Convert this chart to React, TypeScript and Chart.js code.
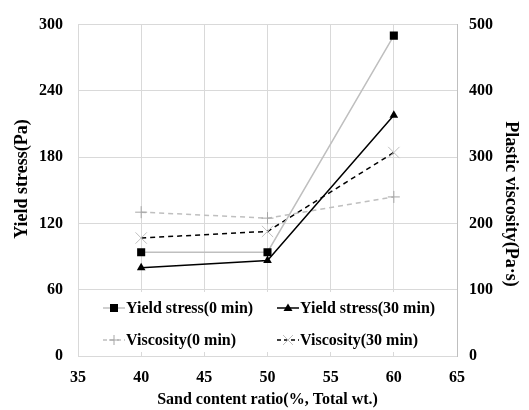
import React, { useEffect, useRef } from "react";
import { Chart, registerables } from "chart.js";

Chart.register(...registerables);

const sandRatio = [40, 50, 60];
const yieldStress0 = [94, 94, 290];
const yieldStress30 = [80, 86.5, 218];
const viscosity0 = [217, 208, 240];
const viscosity30 = [178, 188, 307];

const xTitle = "Sand content ratio(%, Total wt.)";
const yTitle = "Yield stress(Pa)";
const y1Title = "Plastic viscosity(Pa·s)";
const legendLabels = [
  "Yield stress(0 min)",
  "Yield stress(30 min)",
  "Viscosity(0 min)",
  "Viscosity(30 min)",
];

const FONT_FAMILY = '"Liberation Serif", "Times New Roman", serif';
const GRID = "#d9d9d9";

const toPoints = (vals: number[]) => sandRatio.map((x, i) => ({ x, y: vals[i] }));

function drawMarker(ctx: CanvasRenderingContext2D, style: string, x: number, y: number, color: string) {
  ctx.save();
  ctx.fillStyle = color;
  ctx.strokeStyle = color;
  ctx.setLineDash([]);
  ctx.lineWidth = 1;
  if (style === "rect") {
    ctx.fillRect(x - 4, y - 4, 8, 8);
  } else if (style === "triangle") {
    ctx.beginPath();
    ctx.moveTo(x, y - 4.5);
    ctx.lineTo(x + 4.5, y + 3);
    ctx.lineTo(x - 4.5, y + 3);
    ctx.closePath();
    ctx.fill();
  } else if (style === "cross") {
    ctx.beginPath();
    ctx.moveTo(x - 5, y);
    ctx.lineTo(x + 5, y);
    ctx.moveTo(x, y - 5);
    ctx.lineTo(x, y + 5);
    ctx.stroke();
  } else if (style === "crossRot") {
    ctx.beginPath();
    ctx.moveTo(x - 5, y - 5);
    ctx.lineTo(x + 5, y + 5);
    ctx.moveTo(x + 5, y - 5);
    ctx.lineTo(x - 5, y + 5);
    ctx.stroke();
  }
  ctx.restore();
}

const legendItems = [
  { text: legendLabels[0], lineColor: "#bfbfbf", dash: [] as number[], marker: "rect", markerColor: "#000", x: 103, y: 308 },
  { text: legendLabels[1], lineColor: "#000", dash: [] as number[], marker: "triangle", markerColor: "#000", x: 277, y: 308 },
  { text: legendLabels[2], lineColor: "#bfbfbf", dash: [4, 3], marker: "cross", markerColor: "#a6a6a6", x: 103, y: 340 },
  { text: legendLabels[3], lineColor: "#000", dash: [4, 3], marker: "crossRot", markerColor: "#bfbfbf", x: 277, y: 340 },
];

const legendPlugin = {
  id: "insideLegend",
  afterDatasetsDraw(chart: any) {
    const ctx: CanvasRenderingContext2D = chart.ctx;
    ctx.save();
    ctx.fillStyle = "#fff";
    ctx.fillRect(96, 292, 350, 60);
    ctx.font = `bold 16px ${FONT_FAMILY}`;
    ctx.textBaseline = "middle";
    ctx.textAlign = "left";
    for (const it of legendItems) {
      ctx.strokeStyle = it.lineColor;
      ctx.lineWidth = 1.5;
      ctx.setLineDash(it.dash);
      ctx.beginPath();
      ctx.moveTo(it.x, it.y);
      ctx.lineTo(it.x + 22, it.y);
      ctx.stroke();
      drawMarker(ctx, it.marker, it.x + 11, it.y, it.markerColor);
      ctx.fillStyle = "#000";
      ctx.fillText(it.text, it.x + 23, it.y + 1);
    }
    ctx.restore();
  },
};

const sideTitlesPlugin = {
  id: "sideTitles",
  afterDraw(chart: any) {
    const ctx: CanvasRenderingContext2D = chart.ctx;
    ctx.save();
    ctx.font = `bold 18px ${FONT_FAMILY}`;
    ctx.fillStyle = "#000";
    ctx.textAlign = "center";
    ctx.textBaseline = "middle";
    ctx.save();
    ctx.translate(22, 179);
    ctx.rotate(-Math.PI / 2);
    ctx.fillText(yTitle, 0, 0);
    ctx.restore();
    ctx.save();
    ctx.translate(511, 204);
    ctx.rotate(Math.PI / 2);
    ctx.fillText(y1Title, 0, 0);
    ctx.restore();
    ctx.restore();
  },
};

export default function App() {
  const ref = useRef<HTMLCanvasElement>(null);
  useEffect(() => {
    if (!ref.current) return;
    const tickFont = { family: FONT_FAMILY, size: 16, weight: "bold" as const };
    const chart = new Chart(ref.current, {
      type: "line",
      data: {
        datasets: [
          {
            label: legendLabels[0],
            data: toPoints(yieldStress0),
            yAxisID: "y",
            borderColor: "#bfbfbf",
            borderWidth: 1.5,
            pointStyle: "rect",
            pointRadius: 5.7,
            pointBackgroundColor: "#000",
            pointBorderColor: "#000",
            pointBorderWidth: 0,
          },
          {
            label: legendLabels[1],
            data: toPoints(yieldStress30),
            yAxisID: "y",
            borderColor: "#000",
            borderWidth: 1.5,
            pointStyle: "triangle",
            pointRadius: 5,
            pointBackgroundColor: "#000",
            pointBorderColor: "#000",
            pointBorderWidth: 0,
          },
          {
            label: legendLabels[2],
            data: toPoints(viscosity0),
            yAxisID: "y1",
            borderColor: "#bfbfbf",
            borderDash: [5, 4],
            borderWidth: 1.5,
            pointStyle: "cross",
            pointRadius: 6,
            pointBorderColor: "#a6a6a6",
            pointBorderWidth: 1,
          },
          {
            label: legendLabels[3],
            data: toPoints(viscosity30),
            yAxisID: "y1",
            borderColor: "#000",
            borderDash: [5, 4],
            borderWidth: 1.5,
            pointStyle: "crossRot",
            pointRadius: 8,
            pointBorderColor: "#bfbfbf",
            pointBorderWidth: 1,
          },
        ],
      },
      options: {
        responsive: false,
        animation: false,
        layout: { padding: { top: 15, left: 0, right: 0, bottom: 0 } },
        plugins: { legend: { display: false }, tooltip: { enabled: false } },
        scales: {
          x: {
            type: "linear",
            min: 35,
            max: 65,
            ticks: { stepSize: 5, color: "#000", font: tickFont, padding: 12 },
            grid: { color: GRID, drawTicks: false },
            border: { color: GRID },
            title: { display: true, text: xTitle, color: "#000", font: tickFont, padding: { top: 0, bottom: 1 } },
            afterFit: (s: any) => { s.height = 54; },
          },
          y: {
            position: "left",
            min: 0,
            max: 300,
            ticks: { stepSize: 60, color: "#000", font: tickFont, padding: 15 },
            grid: { color: GRID, drawTicks: false },
            border: { color: GRID },
            afterFit: (s: any) => { s.width = 78; },
          },
          y1: {
            position: "right",
            min: 0,
            max: 500,
            ticks: { stepSize: 100, color: "#000", font: tickFont, padding: 12 },
            grid: { drawOnChartArea: false, drawTicks: false, color: GRID },
            border: { color: "#bfbfbf" },
            afterFit: (s: any) => { s.width = 72; },
          },
        },
      },
      plugins: [legendPlugin, sideTitlesPlugin],
    });
    return () => chart.destroy();
  }, []);
  return (
    <div style={{ position: "absolute", left: 0, top: 0, width: 529, height: 410, background: "#fff" }}>
      <canvas ref={ref} width={529} height={410} />
    </div>
  );
}
